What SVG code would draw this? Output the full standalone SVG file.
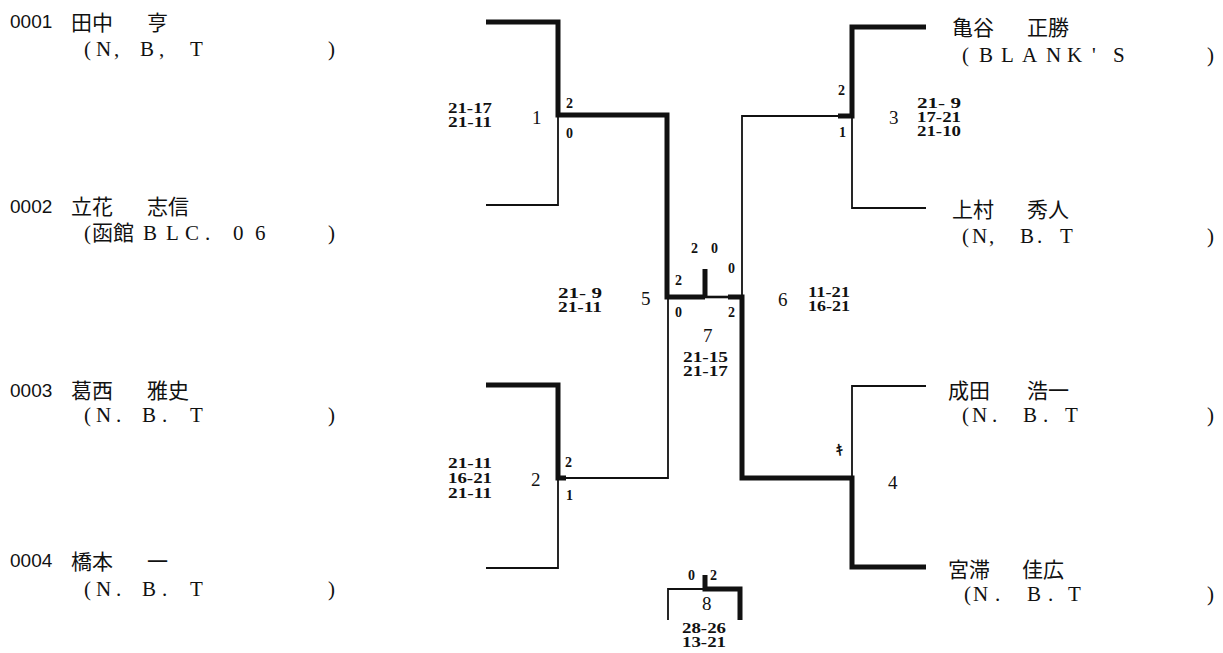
<svg xmlns="http://www.w3.org/2000/svg" width="1223" height="653" viewBox="0 0 1223 653">
<style>
.thk{fill:none;stroke:#111;stroke-width:5;stroke-linejoin:miter;stroke-linecap:butt}
.thn{fill:none;stroke:#111;stroke-width:1.8;stroke-linejoin:miter;stroke-linecap:butt}
.mid{fill:none;stroke:#111;stroke-width:2.6}
.num{font-family:"Liberation Sans",sans-serif;font-size:19px;fill:#111}
.nm{font-family:"Noto Sans CJK JP",sans-serif;font-size:21px;fill:#111}
.tm{font-family:"Liberation Serif","Noto Sans CJK JP",serif;font-size:21px;fill:#111}
.cj{font-family:"Noto Sans CJK JP",sans-serif;font-size:21px}
.sc{font-family:"Liberation Serif",serif;font-size:15px;font-weight:bold;fill:#111}
.ml{font-family:"Liberation Serif",serif;font-size:19px;fill:#111}
.sl{font-family:"Liberation Serif",serif;font-size:14px;font-weight:bold;fill:#111}
</style>
<rect width="1223" height="653" fill="#fff"/>
<g id="connectors">
<path class="thk" d="M486 22 H558 V115 H667 V297 H705"/>
<path class="thn" d="M558 115 V205 H486"/>
<path class="thk" d="M486 385 H558 V478 H566"/>
<path class="thn" d="M558 478 V568 H486"/>
<path class="thn" d="M566 478 H668 V297"/>
<path class="thk" d="M705 269 V297"/>
<path class="mid" d="M705 297 H730"/>
<path class="thk" d="M728 297 H742 V478 H852 V567 H926"/>
<path class="thn" d="M742 297 V116 H838"/>
<path class="thk" d="M838 116 H852 V27 H926"/>
<path class="thn" d="M852 116 V208 H926"/>
<path class="thn" d="M852 478 V386 H926"/>
<path class="thn" d="M668 620 V589 H705"/>
<path class="thk" d="M705 575 V589 H740 V620"/>
</g>
<g id="p0001">
<text class="num" x="10" y="28">0001</text>
<text class="nm" y="30"><tspan x="71">田中</tspan><tspan x="147">亨</tspan></text>
<text class="tm" y="56"><tspan x="84">(</tspan><tspan x="96">N</tspan><tspan x="114">,</tspan><tspan x="140">B</tspan><tspan x="159">,</tspan><tspan x="190">T</tspan><tspan x="328">)</tspan></text>
</g>
<g id="p0002">
<text class="num" x="10" y="213">0002</text>
<text class="nm" y="214"><tspan x="71">立花</tspan><tspan x="147">志信</tspan></text>
<text class="tm" y="240"><tspan x="84">(</tspan><tspan x="92" class="cj">函館</tspan><tspan x="143">B</tspan><tspan x="166">L</tspan><tspan x="185">C</tspan><tspan x="205">.</tspan><tspan x="233">0</tspan><tspan x="255">6</tspan><tspan x="328">)</tspan></text>
</g>
<g id="p0003">
<text class="num" x="10" y="397">0003</text>
<text class="nm" y="398"><tspan x="71">葛西</tspan><tspan x="147">雅史</tspan></text>
<text class="tm" y="422"><tspan x="84">(</tspan><tspan x="96">N</tspan><tspan x="116">.</tspan><tspan x="142">B</tspan><tspan x="162">.</tspan><tspan x="190">T</tspan><tspan x="328">)</tspan></text>
</g>
<g id="p0004">
<text class="num" x="10" y="567">0004</text>
<text class="nm" y="569"><tspan x="71">橋本</tspan><tspan x="147">一</tspan></text>
<text class="tm" y="596"><tspan x="84">(</tspan><tspan x="96">N</tspan><tspan x="116">.</tspan><tspan x="142">B</tspan><tspan x="162">.</tspan><tspan x="190">T</tspan><tspan x="328">)</tspan></text>
</g>
<g id="pR1">
<text class="nm" y="35"><tspan x="952">亀谷</tspan><tspan x="1027">正勝</tspan></text>
<text class="tm" y="62"><tspan x="962">(</tspan><tspan x="979">B</tspan><tspan x="1001">L</tspan><tspan x="1022">A</tspan><tspan x="1046">N</tspan><tspan x="1067">K</tspan><tspan x="1092">'</tspan><tspan x="1113">S</tspan><tspan x="1207">)</tspan></text>
</g>
<g id="pR2">
<text class="nm" y="217"><tspan x="952">上村</tspan><tspan x="1027">秀人</tspan></text>
<text class="tm" y="243"><tspan x="962">(</tspan><tspan x="972">N</tspan><tspan x="989">,</tspan><tspan x="1020">B</tspan><tspan x="1037">.</tspan><tspan x="1060">T</tspan><tspan x="1207">)</tspan></text>
</g>
<g id="pR3">
<text class="nm" y="398"><tspan x="948">成田</tspan><tspan x="1027">浩一</tspan></text>
<text class="tm" y="422"><tspan x="962">(</tspan><tspan x="972">N</tspan><tspan x="992">.</tspan><tspan x="1023">B</tspan><tspan x="1043">.</tspan><tspan x="1065">T</tspan><tspan x="1207">)</tspan></text>
</g>
<g id="pR4">
<text class="nm" y="577"><tspan x="948">宮滞</tspan><tspan x="1022">佳広</tspan></text>
<text class="tm" y="601"><tspan x="964">(</tspan><tspan x="973">N</tspan><tspan x="995">.</tspan><tspan x="1027">B</tspan><tspan x="1048">.</tspan><tspan x="1068">T</tspan><tspan x="1207">)</tspan></text>
</g>
<g id="m1">
<text class="sc" x="448" y="113" textLength="44" lengthAdjust="spacingAndGlyphs">21-17</text>
<text class="sc" x="448" y="127" textLength="44" lengthAdjust="spacingAndGlyphs">21-11</text>
<text class="ml" x="532" y="124">1</text>
<text class="sl" x="566" y="108">2</text>
<text class="sl" x="566" y="138">0</text>
</g>
<g id="m2">
<text class="sc" x="448" y="468" textLength="44" lengthAdjust="spacingAndGlyphs">21-11</text>
<text class="sc" x="448" y="483" textLength="44" lengthAdjust="spacingAndGlyphs">16-21</text>
<text class="sc" x="448" y="498" textLength="44" lengthAdjust="spacingAndGlyphs">21-11</text>
<text class="ml" x="531" y="486">2</text>
<text class="sl" x="565" y="467">2</text>
<text class="sl" x="566" y="500">1</text>
</g>
<g id="m3">
<text class="sc" x="917" y="108" textLength="44" lengthAdjust="spacingAndGlyphs">21- 9</text>
<text class="sc" x="917" y="122" textLength="44" lengthAdjust="spacingAndGlyphs">17-21</text>
<text class="sc" x="917" y="136" textLength="44" lengthAdjust="spacingAndGlyphs">21-10</text>
<text class="ml" x="889" y="124">3</text>
<text class="sl" x="838" y="95">2</text>
<text class="sl" x="839" y="137">1</text>
</g>
<g id="m4">
<text class="ml" x="888" y="489">4</text>
<text class="sl" x="836" y="455">ｷ</text>
</g>
<g id="m5">
<text class="sc" x="558" y="298" textLength="44" lengthAdjust="spacingAndGlyphs">21- 9</text>
<text class="sc" x="558" y="312" textLength="44" lengthAdjust="spacingAndGlyphs">21-11</text>
<text class="ml" x="641" y="305">5</text>
<text class="sl" x="675" y="285">2</text>
<text class="sl" x="675" y="317">0</text>
</g>
<g id="m6">
<text class="ml" x="778" y="306">6</text>
<text class="sc" x="808" y="297" textLength="42" lengthAdjust="spacingAndGlyphs">11-21</text>
<text class="sc" x="808" y="311" textLength="42" lengthAdjust="spacingAndGlyphs">16-21</text>
<text class="sl" x="728" y="273">0</text>
<text class="sl" x="728" y="317">2</text>
</g>
<g id="m7">
<text class="sl" x="691" y="253">2</text>
<text class="sl" x="711" y="253">0</text>
<text class="ml" x="703" y="342">7</text>
<text class="sc" x="683" y="362" textLength="45" lengthAdjust="spacingAndGlyphs">21-15</text>
<text class="sc" x="683" y="376" textLength="45" lengthAdjust="spacingAndGlyphs">21-17</text>
</g>
<g id="m8">
<text class="sl" x="688" y="580">0</text>
<text class="sl" x="710" y="580">2</text>
<text class="ml" x="702" y="610">8</text>
<text class="sc" x="682" y="633" textLength="44" lengthAdjust="spacingAndGlyphs">28-26</text>
<text class="sc" x="682" y="647" textLength="44" lengthAdjust="spacingAndGlyphs">13-21</text>
</g>
</svg>
